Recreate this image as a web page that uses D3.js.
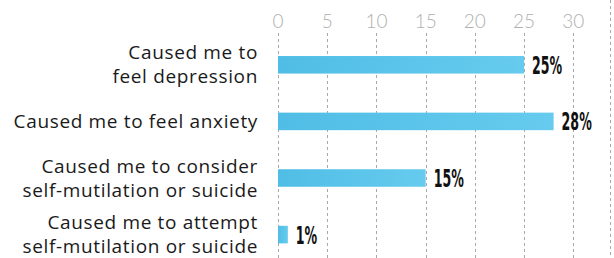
<!DOCTYPE html>
<html>
<head>
<meta charset="utf-8">
<script src="https://cdn.jsdelivr.net/npm/d3@7"></script>
<style>
  html, body { margin: 0; padding: 0; background: #fff; }
  svg { display: block; }
</style>
</head>
<body>
<div id="chart"></div>
<script>
const categories = ['depression', 'anxiety', 'consider', 'attempt'];
const labelLines = [
  ['Caused me to', 'feel depression'],
  ['Caused me to feel anxiety'],
  ['Caused me to consider', 'self-mutilation or suicide'],
  ['Caused me to attempt', 'self-mutilation or suicide']
];
const values = [25, 28, 15, 1];
const ticks = [0, 5, 10, 15, 20, 25, 30];

const width = 614;
const height = 258;
const plotLeft = 278;

const svg = d3.select('#chart').append('svg')
  .attr('width', width)
  .attr('height', height);

const defs = svg.append('defs');
const grad = defs.append('linearGradient')
  .attr('id', 'barGrad')
  .attr('x1', 0).attr('y1', 0).attr('x2', 1).attr('y2', 0);
grad.append('stop').attr('offset', '0%').attr('stop-color', '#50bde6');
grad.append('stop').attr('offset', '100%').attr('stop-color', '#66cbee');

const x = d3.scaleLinear()
  .domain([0, 30])
  .range([plotLeft, 573.3]);

const y = d3.scaleBand()
  .domain(categories)
  .range([36.5, 262.9])
  .paddingInner(0.69)
  .paddingOuter(0.345);

// grid lines
svg.append('g')
  .selectAll('line')
  .data(ticks)
  .join('line')
  .attr('x1', d => Math.round(x(d)) + 0.5)
  .attr('x2', d => Math.round(x(d)) + 0.5)
  .attr('y1', 33)
  .attr('y2', height)
  .attr('stroke', '#a8a8a8')
  .attr('stroke-width', 1)
  .attr('stroke-dasharray', '3,3');

// right border
svg.append('line')
  .attr('x1', 610.5).attr('x2', 610.5)
  .attr('y1', 0).attr('y2', height)
  .attr('stroke', '#a8a8a8')
  .attr('stroke-dasharray', '3,3');

// tick labels
svg.append('g')
  .selectAll('text')
  .data(ticks)
  .join('text')
  .attr('x', d => x(d))
  .attr('y', 28)
  .attr('text-anchor', 'middle')
  .attr('font-family', 'Lato, sans-serif')
  .attr('font-weight', 300)
  .attr('font-size', 19)
  .attr('fill', '#b0b0b0')
  .text(d => d);

// bars
svg.append('g')
  .selectAll('rect')
  .data(values)
  .join('rect')
  .attr('x', x(0))
  .attr('y', (d, i) => y(categories[i]))
  .attr('width', d => x(d) - x(0))
  .attr('height', y.bandwidth())
  .attr('fill', 'url(#barGrad)');

// value labels
svg.append('g')
  .selectAll('text')
  .data(values)
  .join('text')
  .attr('transform', (d, i) =>
    `translate(${x(d) + 8},${y(categories[i]) + y.bandwidth() / 2 + 9}) scale(0.56,1)`)
  .attr('font-family', '"Liberation Sans Narrow", "DejaVu Sans Condensed", sans-serif')
  .attr('font-weight', 'bold')
  .attr('font-size', 25)
  .attr('fill', '#111')
  .text(d => d + '%');

// category labels, one text per line
const lineH = 24;
const lines = labelLines.flatMap((ls, i) =>
  ls.map((t, j) => ({ text: t, cat: categories[i], offset: j - (ls.length - 1) / 2 })));

svg.append('g')
  .selectAll('text')
  .data(lines)
  .join('text')
  .attr('text-anchor', 'end')
  .attr('x', 258)
  .attr('y', d => y(d.cat) + y.bandwidth() / 2 + 6.5 + d.offset * lineH)
  .attr('font-family', '"Open Sans", sans-serif')
  .attr('font-size', 19)
  .attr('letter-spacing', 0.65)
  .attr('fill', '#1a1a1a')
  .text(d => d.text);
</script>
</body>
</html>
